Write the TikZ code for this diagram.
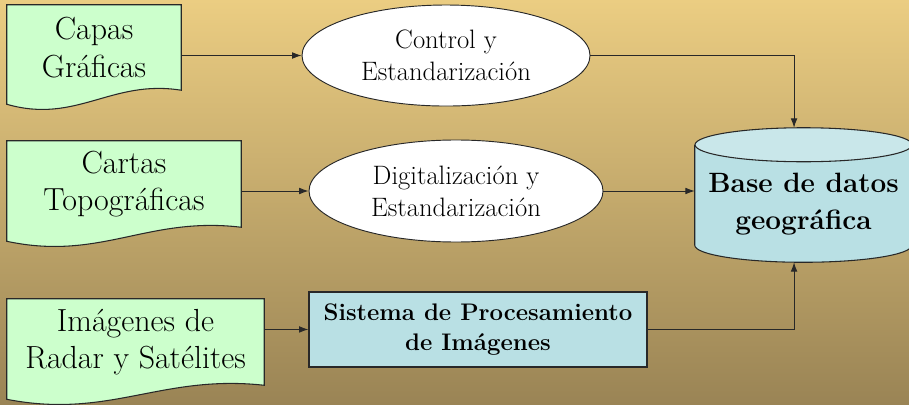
\documentclass[tikz,border=0pt]{standalone}
\usetikzlibrary{shapes.geometric,arrows.meta,calc,backgrounds}

\definecolor{docgreen}{RGB}{204,255,204}
\definecolor{boxblue}{RGB}{185,224,228}
\definecolor{cyltop}{RGB}{201,231,234}
\definecolor{bgtop}{RGB}{235,205,130}
\definecolor{bgmid}{RGB}{212,182,116}
\definecolor{bgbot}{RGB}{154,132,85}
\definecolor{edge}{RGB}{40,40,40}

\tikzstyle{docnode}=[rectangle, inner sep=0pt, align=center, font=\fontsize{24}{28}\selectfont]
\tikzstyle{docshape}=[fill=docgreen, draw=edge, line width=0.8pt]
\tikzstyle{oval}=[ellipse, draw=edge, fill=white, inner sep=0pt, line width=0.7pt, align=center, font=\fontsize{20}{24}\selectfont]
\tikzstyle{procbox}=[rectangle, draw=edge, fill=boxblue, line width=0.8pt, align=center, font=\bfseries\fontsize{18}{22.5}\selectfont]
\tikzstyle{flow}=[-{Latex[length=7pt,width=5pt]}, line width=0.7pt, draw=edge]

% document symbol with a wavy lower edge
\newcommand{\docpath}[1]{%
  \draw[docshape] (#1.north west) -- (#1.north east) -- (#1.south east)
    .. controls ($(#1.south west)!0.6!(#1.south east)+(0,0.3)$)
    and ($(#1.south west)!0.4!(#1.south east)+(0,-0.9)$)
    .. ($(#1.south west)+(0,-0.37)$) -- cycle;}

\begin{document}
\begin{tikzpicture}

\useasboundingbox (0,0) rectangle (24,10.667);

% sources
\node[docnode, minimum width=4.594cm, minimum height=2.244cm] (cap) at (2.482,9.413) {Capas\\Gráficas};
\node[docnode, minimum width=6.178cm, minimum height=2.271cm] (tpo) at (3.274,5.809) {Cartas\\Topográficas};
\node[docnode, minimum width=6.785cm, minimum height=2.271cm] (img) at (3.578,1.637) {Imágenes de\\Radar y Satélites};

% processes
\node[oval, minimum width=7.604cm, minimum height=2.667cm] (ctl) at (11.776,9.201) {Control y\\Estandarización};
\node[oval, minimum width=7.762cm, minimum height=2.693cm] (dig) at (12.040,5.624) {Digitalización y\\Estandarización};
\node[procbox, minimum width=8.924cm, minimum height=1.98cm] (proc) at (12.620,1.968) {Sistema de Procesamiento\\de Imágenes};

% database
\node[rectangle, minimum width=5.729cm, minimum height=3.538cm] (db) at (21.215,5.518) {};
\fill[boxblue] ([yshift=-0.449cm]db.north west) -- ([yshift=0.449cm]db.south west)
  arc[start angle=180, end angle=360, x radius=2.865cm, y radius=0.449cm]
  -- ([yshift=-0.449cm]db.north east) -- cycle;
\draw[edge, line width=0.8pt] ([yshift=-0.449cm]db.north west) -- ([yshift=0.449cm]db.south west)
  arc[start angle=180, end angle=360, x radius=2.865cm, y radius=0.449cm]
  -- ([yshift=-0.449cm]db.north east);
\draw[edge, line width=0.8pt, fill=cyltop] ([yshift=-0.449cm]db.north) ellipse[x radius=2.865cm, y radius=0.449cm];
\node[align=center, font=\bfseries\fontsize{21}{28}\selectfont] (dbt) at ([yshift=-0.24cm]db.center) {Base de datos\\geográfica};

\draw[flow] (ctl.west -| cap.east) -- (ctl.west);
\draw[flow] (dig.west -| tpo.east) -- (dig.west);
\draw[flow] (proc.west -| img.east) -- (proc.west);
\draw[flow] (ctl.east) -| ([xshift=-0.25cm]db.north);
\draw[flow] (dig.east) -- (dig.east -| db.west);
\draw[flow] (proc.east) -| ([xshift=-0.25cm]db.south);

\begin{scope}[on background layer]
\shade[top color=bgtop, middle color=bgmid, bottom color=bgbot] (0,0) rectangle (24,10.667);
\docpath{cap}
\docpath{tpo}
\docpath{img}
\end{scope}

\end{tikzpicture}
\end{document}
